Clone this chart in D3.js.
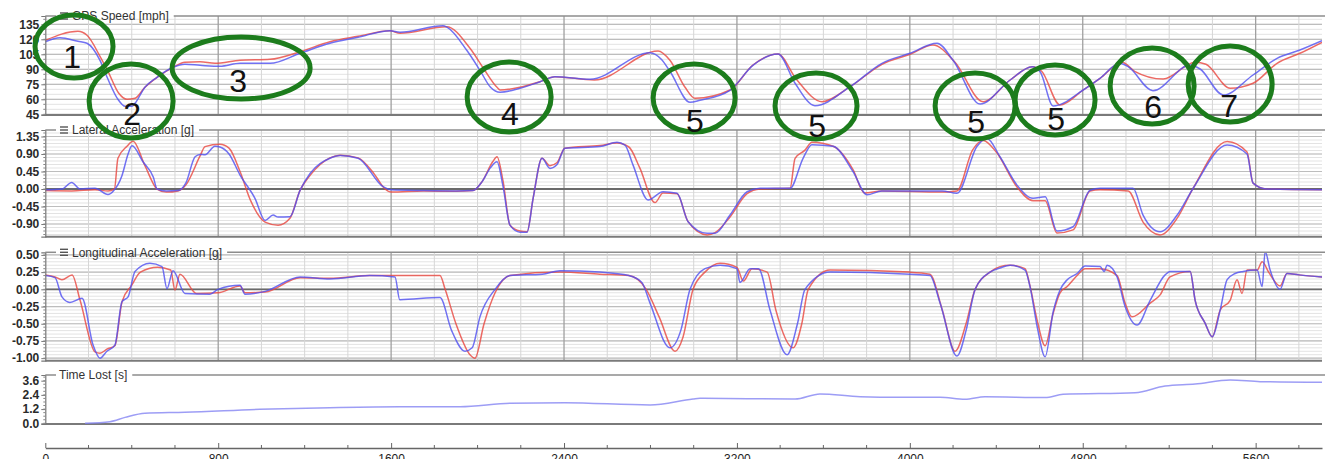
<!DOCTYPE html>
<html><head><meta charset="utf-8">
<script src="https://cdn.jsdelivr.net/npm/d3@7"></script>
<style>
body{margin:0;background:#fff;}
svg{display:block;font-family:"Liberation Sans",Arial,Helvetica,sans-serif;}
</style>
</head><body>
<svg id="c" width="1325" height="459"></svg>
<script>
// ---------------- DATA ----------------
const distanceTicks = [0, 800, 1600, 2400, 3200, 4000, 4800, 5600];
const speedTicks = [45, 60, 75, 90, 105, 120, 135];
const latTicks = [-0.90, -0.45, 0.00, 0.45, 0.90, 1.35];
const lonTicks = [-1.00, -0.75, -0.50, -0.25, 0.00, 0.25, 0.50];
const timeTicks = [0.0, 1.2, 2.4, 3.6];

// [distance, mph]
const speedRed = [[0,119],[151,128],[193,124],[253,103],[290,88],[340,66],[378,60],[415,61],[461,72],[517,82],[591,92],[646,97],[716,97.5],[785,96],[901,99],[1040,100],[1179,107.6],[1317,117.6],[1447,123],[1595,128.6],[1641,126],[1857,132.6],[1965,111],[2030,90],[2090,72],[2104,69.3],[2196,72],[2289,77.6],[2358,82.6],[2540,79.3],[2835,108.3],[2890,99],[2960,72],[3006,61],[3168,69.3],[3274,94.3],[3390,105.3],[3475,80],[3594,57.6],[3724,72.6],[3871,95],[4001,105],[4107,114.3],[4209,97],[4339,57.6],[4464,79.3],[4566,92.6],[4610,88],[4695,54.3],[4802,69.3],[4880,81],[4982,97],[5040,88],[5172,80.3],[5320,97],[5370,95],[5482,71],[5588,76],[5699,96],[5805,106],[5907,117]];
const speedBlue = [[0,117.6],[68,121.6],[151,118],[193,116],[253,99],[290,80],[336,60],[369,53],[401,53],[415,56],[461,72],[517,82],[591,92],[646,95],[716,94],[808,93],[901,96],[1040,96],[1179,106],[1317,116],[1447,122],[1595,128.6],[1641,127],[1840,133.6],[1860,132],[1950,109],[2011,89],[2060,72],[2104,67],[2196,71],[2289,77.6],[2358,82.6],[2520,80],[2798,106.6],[2850,100],[2890,88],[2983,57],[3029,59],[3168,69],[3274,94],[3390,105.3],[3469,76],[3561,53.6],[3724,72.6],[3871,96],[4001,106],[4126,116],[4200,99],[4325,55.3],[4464,79.3],[4566,92.6],[4603,87.6],[4663,53.3],[4802,69.3],[4880,81],[4972,96],[5010,92.6],[5125,68.6],[5297,94.3],[5343,90.3],[5450,64.3],[5588,84.3],[5699,101],[5805,109.3],[5907,118.6]];

// [distance, g]
const latRed = [[0,-0.04],[122,-0.05],[230,-0.02],[290,-0.05],[320,0.0],[336,0.79],[378,1.1],[406,1.23],[461,0.6],[517,0.0],[560,-0.08],[614,-0.05],[650,0.1],[716,0.85],[739,1.09],[808,1.15],[850,1.05],[901,0.45],[950,-0.3],[1017,-0.85],[1077,-0.93],[1132,-0.75],[1179,-0.03],[1225,0.35],[1317,0.80],[1364,0.87],[1447,0.80],[1520,0.4],[1572,0.0],[1600,-0.08],[1750,-0.05],[1900,-0.06],[1979,-0.04],[2021,0.19],[2070,0.7],[2090,0.83],[2118,0.2],[2150,-0.93],[2196,-1.08],[2229,-1.1],[2257,-0.24],[2298,0.79],[2335,0.6],[2368,0.68],[2404,1.05],[2566,1.12],[2645,1.18],[2700,1.08],[2750,0.55],[2821,-0.35],[2858,-0.1],[2923,-0.12],[2974,-0.84],[3062,-1.18],[3099,-1.12],[3168,-0.72],[3247,-0.12],[3307,0.0],[3446,0.02],[3469,0.79],[3515,1.0],[3547,1.2],[3645,1.1],[3737,0.5],[3790,-0.1],[3870,-0.05],[4150,-0.08],[4218,-0.05],[4290,1.0],[4339,1.25],[4400,0.95],[4496,0.05],[4570,-0.30],[4626,-0.3],[4681,-1.13],[4755,-1.05],[4834,-0.05],[4880,-0.02],[5010,-0.05],[5079,-0.85],[5158,-1.18],[5237,-0.75],[5311,0.02],[5468,1.22],[5560,0.95],[5588,0.15],[5650,0.0],[5907,-0.02]];
const latBlue = [[0,-0.02],[77,0.0],[122,0.17],[161,0.0],[230,0.02],[290,-0.14],[315,-0.05],[355,0.35],[383,0.9],[401,1.11],[452,0.7],[500,0.3],[517,0.0],[560,-0.05],[614,-0.04],[650,0.15],[693,0.83],[716,0.89],[739,0.88],[785,1.10],[808,1.08],[850,0.9],[901,0.36],[970,-0.24],[1017,-0.81],[1054,-0.67],[1077,-0.72],[1132,-0.71],[1179,-0.03],[1225,0.40],[1317,0.79],[1364,0.86],[1447,0.79],[1563,0.06],[1600,-0.02],[1750,-0.04],[1900,-0.05],[1979,-0.04],[2021,0.19],[2060,0.55],[2090,0.70],[2118,0.06],[2150,-0.93],[2196,-1.11],[2229,-1.11],[2257,-0.24],[2298,0.79],[2335,0.53],[2368,0.63],[2404,1.05],[2566,1.09],[2645,1.2],[2682,1.13],[2719,0.62],[2789,-0.28],[2858,-0.07],[2923,-0.11],[2974,-0.84],[3062,-1.14],[3099,-1.14],[3168,-0.67],[3247,-0.07],[3307,0.02],[3446,0.02],[3506,0.79],[3547,1.14],[3645,1.10],[3737,0.45],[3802,-0.15],[3870,-0.05],[4150,-0.05],[4218,-0.11],[4311,1.10],[4357,1.30],[4417,0.83],[4496,0.10],[4570,-0.24],[4626,-0.20],[4681,-1.08],[4755,-0.97],[4834,-0.03],[4880,0.02],[5033,0.02],[5079,-0.67],[5158,-1.10],[5237,-0.67],[5311,0.02],[5468,1.13],[5560,0.9],[5588,0.15],[5650,0.0],[5907,-0.02]];

const lonRed = [[0,0.21],[45,0.18],[77,0.14],[124,0.21],[161,-0.16],[230,-0.91],[253,-0.93],[285,-0.87],[322,-0.82],[355,-0.18],[400,0.06],[440,0.25],[520,0.32],[580,0.28],[600,-0.01],[623,0.22],[700,-0.06],[799,-0.05],[901,0.05],[924,-0.05],[1017,-0.04],[1179,0.17],[1317,0.16],[1500,0.2],[1826,0.2],[1850,0.0],[1900,-0.5],[1965,-0.95],[1988,-1.0],[2030,-0.5],[2081,-0.05],[2150,0.2],[2381,0.25],[2566,0.22],[2700,0.2],[2780,0.0],[2840,-0.4],[2914,-0.9],[2950,-0.7],[2997,0.0],[3052,0.25],[3122,0.38],[3200,0.32],[3230,0.12],[3270,0.3],[3340,0.25],[3380,-0.3],[3460,-0.85],[3500,-0.5],[3530,0.0],[3631,0.28],[4000,0.25],[4093,0.22],[4150,-0.3],[4209,-0.9],[4260,-0.5],[4302,0.0],[4371,0.25],[4417,0.33],[4464,0.35],[4533,0.3],[4556,0.05],[4589,-0.45],[4626,-0.82],[4663,-0.35],[4695,-0.05],[4728,0.04],[4774,0.2],[4811,0.3],[4880,0.3],[4959,0.2],[4996,-0.2],[5028,-0.40],[5112,-0.2],[5158,-0.08],[5204,0.18],[5297,0.26],[5320,-0.16],[5366,-0.49],[5399,-0.69],[5436,-0.30],[5482,-0.16],[5514,0.14],[5537,-0.06],[5560,0.28],[5607,0.28],[5630,0.40],[5660,0.25],[5713,0.05],[5745,0.23],[5800,0.21],[5907,0.18]];
const lonBlue = [[0,0.20],[45,0.17],[77,-0.11],[114,-0.19],[170,-0.13],[221,-0.81],[253,-1.00],[285,-0.90],[322,-0.81],[355,-0.18],[383,-0.11],[415,0.26],[484,0.38],[540,0.33],[563,0.01],[591,0.27],[646,-0.06],[762,-0.07],[799,0.0],[901,0.06],[924,-0.07],[1017,-0.03],[1179,0.18],[1317,0.15],[1500,0.2],[1618,0.18],[1640,-0.15],[1826,-0.12],[1880,-0.6],[1942,-0.9],[1975,-0.85],[2011,-0.4],[2081,0.0],[2150,0.2],[2300,0.22],[2381,0.27],[2566,0.25],[2700,0.2],[2760,0.1],[2798,-0.2],[2890,-0.85],[2940,-0.6],[2983,0.0],[3052,0.3],[3122,0.35],[3200,0.3],[3214,0.1],[3261,0.3],[3300,0.3],[3353,-0.3],[3432,-0.95],[3480,-0.5],[3515,0.0],[3631,0.25],[4000,0.22],[4093,0.2],[4140,-0.2],[4218,-0.97],[4260,-0.6],[4302,0.0],[4371,0.25],[4417,0.31],[4464,0.35],[4533,0.28],[4556,0.04],[4589,-0.54],[4626,-0.98],[4663,-0.33],[4695,-0.01],[4728,0.14],[4774,0.23],[4811,0.34],[4880,0.33],[4900,0.26],[4912,0.35],[4959,0.18],[4996,-0.25],[5051,-0.52],[5112,-0.16],[5181,0.21],[5204,0.26],[5297,0.26],[5320,-0.16],[5366,-0.49],[5399,-0.69],[5436,-0.30],[5468,0.14],[5505,0.23],[5542,0.26],[5607,0.28],[5630,0.04],[5644,0.55],[5667,0.28],[5713,0.0],[5745,0.23],[5800,0.21],[5907,0.18]];

// [distance, s]
const timeLost = [[184,0],[299,0.14],[369,0.5],[461,0.85],[646,0.93],[993,1.18],[1317,1.32],[1641,1.40],[1919,1.40],[2150,1.69],[2404,1.74],[2798,1.55],[2997,2.05],[3029,2.11],[3469,2.05],[3584,2.48],[3770,2.25],[3955,2.2],[4140,2.2],[4255,2.03],[4348,2.25],[4626,2.17],[4709,2.45],[5042,2.59],[5181,3.15],[5320,3.32],[5482,3.66],[5621,3.52],[5907,3.46]];

// annotation labels + centres (distance, mph)
const annoLabels = ["1","2","3","4","5","5","5","5","6","7"];
const annoCentre = [[133,112.8],[397,58.3],[906,91.3],[2146,62.3],[3002,61.3],[3566,53.3],[4302,53.3],[4672,59.3],[5121,73.3],[5482,75.3]];
const annoLabelPos = [[124,91.3],[402,34.3],[892,67.3],[2150,34.3],[3006,27.3],[3571,22.3],[4307,26.3],[4677,29.3],[5126,41.3],[5477,42.3]];

// ---------------- DRAW ----------------
const svg = d3.select("#c");
const W = 1325;
const x0 = 45.3, x1 = 1322;
const x = d3.scaleLinear().domain([0, 5907]).range([x0, x1]);
const RED = "#e8463f", BLUE = "#4f4ff0";

const panels = [
  {key:"spd", title:"GPS Speed [mph]", icon:true, top:16, bottom:115, domain:[44.3,143.3], ticks:speedTicks, minor:5, fmt:v=>String(v), grid:true, zero:false, series:[[speedRed,RED],[speedBlue,BLUE]]},
  {key:"lat", title:"Lateral Acceleration [g]", icon:true, top:130, bottom:236.7, domain:[-1.226,1.517], ticks:latTicks, minor:0.09, fmt:v=>v.toFixed(2), grid:true, zero:true, series:[[latRed,RED],[latBlue,BLUE]]},
  {key:"lon", title:"Longitudinal Acceleration [g]", icon:true, top:252.3, bottom:360.7, domain:[-1.037,0.538], ticks:lonTicks, minor:0.05, fmt:v=>v.toFixed(2), grid:true, zero:true, series:[[lonRed,RED],[lonBlue,BLUE]]},
  {key:"tl", title:"Time Lost [s]", icon:false, top:375, bottom:424, domain:[-0.06,4.08], ticks:timeTicks, minor:0.3, fmt:v=>v.toFixed(1), grid:false, zero:false, series:[[timeLost,"#8585f2"]]}
];

let speedY;
panels.forEach(p => {
  const y = d3.scaleLinear().domain(p.domain).range([p.bottom, p.top]);
  if (p.key === "spd") speedY = y;
  const g = svg.append("g");
  const clipId = "clip-" + p.key;
  svg.append("clipPath").attr("id", clipId).append("rect")
    .attr("x", x0).attr("y", p.top).attr("width", x1 - x0).attr("height", p.bottom - p.top);

  const base = p.ticks[0];
  const mv = [];
  for (let v = base; v >= p.domain[0]; v -= p.minor) mv.push(v);
  for (let v = base + p.minor; v <= p.domain[1]; v += p.minor) mv.push(v);

  if (p.grid) {
    g.selectAll(".hmin").data(mv).join("line")
      .attr("x1", x0).attr("x2", x1).attr("y1", d => y(d)).attr("y2", d => y(d))
      .attr("stroke", "#e3e3e3").attr("stroke-width", 1);
    g.selectAll(".hmaj").data(p.ticks).join("line")
      .attr("x1", x0).attr("x2", x1).attr("y1", d => y(d)).attr("y2", d => y(d))
      .attr("stroke", "#bdbdbd").attr("stroke-width", 1.2);
    const vmin = d3.range(200, 5907, 200).filter(d => d % 800 !== 0);
    g.selectAll(".vmin").data(vmin).join("line")
      .attr("x1", d => x(d)).attr("x2", d => x(d)).attr("y1", p.top).attr("y2", p.bottom)
      .attr("stroke", "#d6d6d6").attr("stroke-width", 1);
    g.selectAll(".vmaj").data(distanceTicks.slice(1)).join("line")
      .attr("x1", d => x(d)).attr("x2", d => x(d)).attr("y1", p.top).attr("y2", p.bottom)
      .attr("stroke", "#a0a0a0").attr("stroke-width", 1.3);
  }
  if (p.zero) {
    g.append("line").attr("x1", x0).attr("x2", x1).attr("y1", y(0)).attr("y2", y(0))
      .attr("stroke", "#6a6a6a").attr("stroke-width", 1.8);
  }
  g.append("line").attr("x1", x0).attr("x2", x1).attr("y1", p.bottom).attr("y2", p.bottom)
    .attr("stroke", "#7a7a7a").attr("stroke-width", 2);

  const line = d3.line().x(d => x(d[0])).y(d => y(d[1])).curve(d3.curveMonotoneX);
  const sg = g.append("g").attr("clip-path", `url(#${clipId})`);
  p.series.forEach(([data, col]) => {
    sg.append("path").datum(data).attr("d", line)
      .attr("fill", "none").attr("stroke", col).attr("stroke-width", 1.5)
      .attr("stroke-opacity", 0.8).attr("stroke-linejoin", "round");
  });

  const ax = d3.axisLeft(y).tickValues(p.ticks).tickSize(4).tickPadding(2).tickFormat(p.fmt);
  const ag = g.append("g").attr("transform", `translate(${x0},0)`).call(ax);
  ag.select(".domain").attr("stroke", "#777").attr("stroke-width", 1.2);
  ag.selectAll(".tick line").attr("stroke", "#777");
  ag.selectAll(".tick text").attr("font-size", 12).attr("font-weight", "bold")
    .attr("fill", "#2a2a2a").attr("font-family", "'Liberation Sans',Arial,sans-serif");
  g.selectAll(".mt").data(mv).join("line")
    .attr("x1", x0 - 2).attr("x2", x0).attr("y1", d => y(d)).attr("y2", d => y(d))
    .attr("stroke", "#888").attr("stroke-width", 1);

  const titleStart = p.icon ? 72 : 59;
  const t = g.append("text").attr("x", titleStart).attr("y", p.top).attr("dy", "0.35em")
    .attr("font-size", 12).attr("fill", "#333").text(p.title);
  const tw = t.node().getComputedTextLength();
  g.append("line").attr("x1", x0).attr("x2", 56).attr("y1", p.top).attr("y2", p.top)
    .attr("stroke", "#8c8c8c").attr("stroke-width", 1.5);
  g.append("line").attr("x1", titleStart + tw + 5).attr("x2", W).attr("y1", p.top).attr("y2", p.top)
    .attr("stroke", "#8c8c8c").attr("stroke-width", 1.5);
  if (p.icon) {
    [-3, 0, 3].forEach(o => {
      g.append("line").attr("x1", 60).attr("x2", 68).attr("y1", p.top + o).attr("y2", p.top + o)
        .attr("stroke", "#555").attr("stroke-width", 1.4);
    });
  }
});

// bottom distance axis
const axY = 448;
const bAx = d3.axisBottom(x).tickValues(distanceTicks).tickSizeInner(-5).tickSizeOuter(0).tickPadding(6).tickFormat(d3.format("d"));
const bg = svg.append("g").attr("transform", `translate(0,${axY})`).call(bAx);
bg.select(".domain").attr("stroke", "#666").attr("stroke-width", 1.5);
bg.selectAll(".tick line").attr("stroke", "#666");
bg.selectAll(".tick text").attr("font-size", 12).attr("fill", "#222")
  .attr("font-family", "'Liberation Sans',Arial,sans-serif");
svg.append("g").selectAll("line").data(d3.range(200, 5907, 200).filter(d => d % 800 !== 0)).join("line")
  .attr("x1", d => x(d)).attr("x2", d => x(d)).attr("y1", axY).attr("y2", axY - 3)
  .attr("stroke", "#666");

// annotations
const radii = [[39,31.5],[42,37],[69,31],[42,35],[41,34],[41,33],[40,33],[40,35],[42,38],[42,38]];
const ann = svg.append("g");
annoLabels.forEach((lab, i) => {
  ann.append("ellipse")
    .attr("cx", x(annoCentre[i][0])).attr("cy", speedY(annoCentre[i][1]))
    .attr("rx", radii[i][0]).attr("ry", radii[i][1])
    .attr("fill", "none").attr("stroke", "#1c7c1c").attr("stroke-width", 5);
  ann.append("text")
    .attr("x", x(annoLabelPos[i][0])).attr("y", speedY(annoLabelPos[i][1]))
    .attr("text-anchor", "middle").attr("font-size", 32).attr("fill", "#111").text(lab);
});
</script>
</body></html>
